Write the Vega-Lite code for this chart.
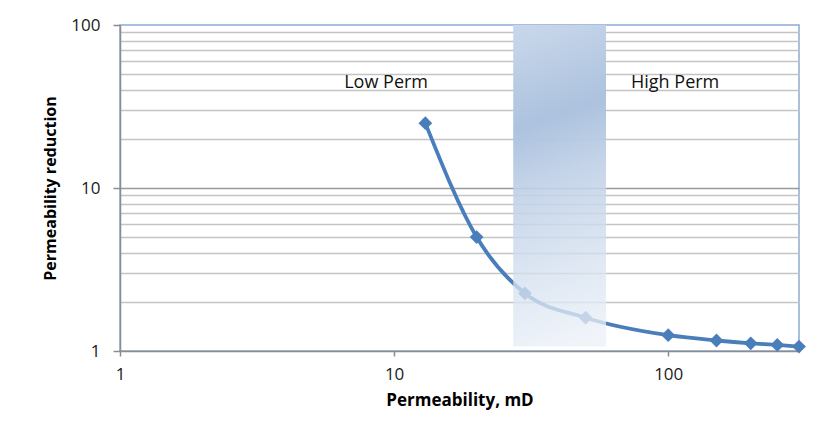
{
  "$schema": "https://vega.github.io/schema/vega-lite/v6.json",
  "width": 679,
  "height": 326,
  "autosize": "none",
  "padding": {"left": 120, "top": 25, "right": 26, "bottom": 85},
  "background": "white",
  "config": {
    "view": {"stroke": "#8eaad6", "strokeWidth": 1.5},
    "font": "Open Sans"
  },
  "datasets": {
    "curve": [
      {"perm": 13, "reduction": 25},
      {"perm": 20, "reduction": 5.0},
      {"perm": 30, "reduction": 2.26},
      {"perm": 50, "reduction": 1.6},
      {"perm": 100, "reduction": 1.25},
      {"perm": 150, "reduction": 1.16},
      {"perm": 200, "reduction": 1.115},
      {"perm": 250, "reduction": 1.09},
      {"perm": 300, "reduction": 1.065}
    ],
    "band": [{"x1": 27.2, "x2": 59.3, "y1": 100, "y2": 1.065}],
    "labels": [
      {"perm": 9.35, "reduction": 44, "text": "Low Perm"},
      {"perm": 106, "reduction": 44, "text": "High Perm"}
    ]
  },
  "layer": [
    {
      "data": {"name": "curve"},
      "mark": {"type": "line", "interpolate": "monotone", "color": "#4a7ebb", "strokeWidth": 3.8},
      "encoding": {
        "x": {
          "field": "perm", "type": "quantitative",
          "scale": {"type": "log", "domain": [1, 300], "nice": false},
          "axis": {
            "title": "Permeability, mD",
            "values": [1, 10, 100],
            "grid": false,
            "domainColor": "#8c8c8c", "domainWidth": 1.5,
            "tickColor": "#8c8c8c", "tickSize": 5, "tickWidth": 1.5,
            "labelFontSize": 17, "labelColor": "#1a1a1a", "labelPadding": 10,
            "labelFlush": false,
            "titleFontSize": 17, "titleFontWeight": "bold", "titleColor": "#000",
            "titlePadding": 10
          }
        },
        "y": {
          "field": "reduction", "type": "quantitative",
          "scale": {"type": "log", "domain": [1, 100], "nice": false},
          "axis": {
            "title": "Permeability reduction",
            "values": [1, 2, 3, 4, 5, 6, 7, 8, 9, 10, 20, 30, 40, 50, 60, 70, 80, 90, 100],
            "labelExpr": "(datum.value == 1 || datum.value == 10 || datum.value == 100) ? datum.label : ''",
            "grid": true,
            "gridColor": {"condition": {"test": "datum.value == 10", "value": "#9a9a9a"}, "value": "#c4c4c4"},
            "gridOpacity": {"condition": {"test": "datum.value == 100 || datum.value == 1", "value": 0}, "value": 1},
            "gridWidth": 1.5,
            "domainColor": "#8c8c8c", "domainWidth": 1.5,
            "tickColor": "#8c8c8c", "tickSize": 7, "tickWidth": 1.5,
            "tickOpacity": {"condition": {"test": "datum.value == 1 || datum.value == 10 || datum.value == 100", "value": 1}, "value": 0},
            "labelFontSize": 17, "labelColor": "#1a1a1a", "labelPadding": 13,
            "labelFlush": false,
            "titleFontSize": 16, "titleFontWeight": "bold", "titleColor": "#000",
            "titlePadding": 12
          }
        }
      }
    },
    {
      "data": {"name": "curve"},
      "mark": {"type": "point", "shape": "diamond", "filled": true, "size": 190, "color": "#4a7ebb", "opacity": 1},
      "encoding": {
        "x": {"field": "perm", "type": "quantitative"},
        "y": {"field": "reduction", "type": "quantitative"}
      }
    },
    {
      "data": {"name": "band"},
      "mark": {
        "type": "rect",
        "fill": {
          "gradient": "linear",
          "x1": 0.45, "y1": 0, "x2": 0.55, "y2": 1,
          "stops": [
            {"offset": 0, "color": "rgba(198,213,233,1)"},
            {"offset": 0.28, "color": "rgba(172,194,222,1)"},
            {"offset": 0.5, "color": "rgba(194,210,232,0.9)"},
            {"offset": 0.75, "color": "rgba(212,224,239,0.78)"},
            {"offset": 1, "color": "rgba(236,241,248,0.78)"}
          ]
        }
      },
      "encoding": {
        "x": {"field": "x1", "type": "quantitative"},
        "x2": {"field": "x2"},
        "y": {"field": "y1", "type": "quantitative"},
        "y2": {"field": "y2"}
      }
    },
    {
      "data": {"name": "labels"},
      "mark": {"type": "text", "fontSize": 18, "color": "#111", "align": "center", "baseline": "middle"},
      "encoding": {
        "x": {"field": "perm", "type": "quantitative"},
        "y": {"field": "reduction", "type": "quantitative"},
        "text": {"field": "text"}
      }
    }
  ]
}
